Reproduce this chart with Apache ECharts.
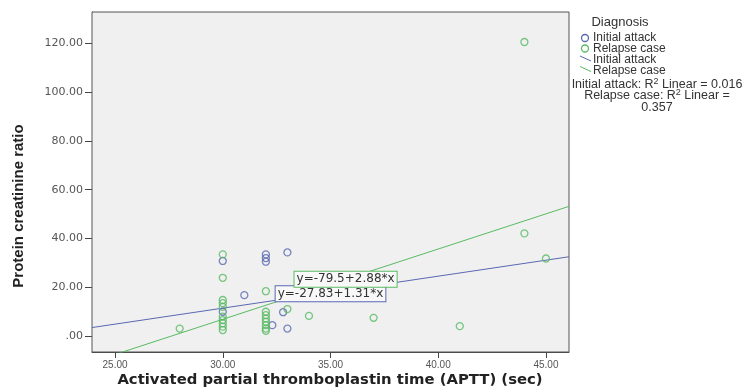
<!DOCTYPE html>
<html>
<head>
<meta charset="utf-8">
<script src="https://cdn.jsdelivr.net/npm/echarts@6/dist/echarts.min.js"></script>
<style>html,body{margin:0;padding:0;background:#fff;}#c{width:749px;height:392px;}</style>
</head>
<body>
<div id="c"></div>
<script>
// ---- data ----
const initialAttack = [
  [30, 30.8], [30, 10], [31, 16.8], [32, 33.5], [32, 32], [32, 30.5],
  [33, 34.3], [32.8, 9.8], [33, 3.1], [32.3, 4.5]
];
const relapseCase = [
  [28, 3.1],
  [30, 33.5], [30, 23.9], [30, 14.8], [30, 13.5], [30, 12], [30, 8], [30, 6.6], [30, 5.3], [30, 3.9], [30, 2.5],
  [32, 18.4], [32, 10], [32, 8.6], [32, 7.2], [32, 5.9], [32, 4.5], [32, 3.1], [32, 2.2],
  [33, 11.1], [34, 8.3], [37, 7.5], [41, 4.1], [44, 42.1], [44, 120.5], [45, 31.8]
];
const fitInitial = [-27.83, 1.31];   // intercept, slope
const fitRelapse = [-79.5, 2.88];
const xTicks = [25, 30, 35, 40, 45];
const yTicks = [0, 20, 40, 60, 80, 100, 120];
const xRange = [23.93, 46.07];
const yRange = [-6.5, 132.8];
const eqLabelX = [35.0, 35.7];  // initial, relapse
const r2Texts = ['Initial attack: R{sup|2} Linear = 0.016', 'Relapse case: R{sup|2} Linear =', '0.357'];

const BLUE = '#5a68b2';
const GREEN = '#58ba62';
const F = '"Liberation Sans", Arial, sans-serif';
const D = '"DejaVu Sans", Verdana, sans-serif';

function fitLine(c) { return [[xRange[0], c[0] + c[1] * xRange[0]], [xRange[1], c[0] + c[1] * xRange[1]]]; }
function eqText(c) { return 'y=' + c[0] + '+' + c[1] + '*x'; }
function fmt(v) { return v === 0 ? '.00' : v.toFixed(2); }

const chart = echarts.init(document.getElementById('c'), null, {renderer: 'canvas'});
const hollow = (col) => ({color: 'rgba(0,0,0,0)', borderColor: col, borderWidth: 1.3});
const eqMark = (c, xv, col, dy) => ({
  symbol: 'rect', symbolSize: 0, silent: true, z: 10,
  data: [{coord: [xv, c[0] + c[1] * xv]}],
  label: {
    show: true, position: 'inside', formatter: eqText(c), offset: [0, dy],
    color: '#333', fontFamily: D, fontSize: 12,
    backgroundColor: '#f8f8f8', borderColor: col, borderWidth: 1, padding: [2, 2, 1, 2]
  }
});
const supRich = {sup: {fontSize: 9, padding: [0, 0, 6, 0]}};

chart.setOption({
  animation: false,
  backgroundColor: '#fff',
  grid: {left: 92, right: 180, top: 12, bottom: 40, show: true, backgroundColor: '#f0f0f0', borderColor: '#555', borderWidth: 1, z: 2},
  xAxis: {
    type: 'value', min: xRange[0], max: xRange[1],
    axisLine: {onZero: false, lineStyle: {color: '#444', width: 1}},
    axisTick: {show: true, length: 6, customValues: xTicks, lineStyle: {color: '#444'}},
    axisLabel: {customValues: xTicks, formatter: fmt, color: '#555', fontFamily: F, fontSize: 10, margin: 8},
    splitLine: {show: false}
  },
  yAxis: {
    type: 'value', min: yRange[0], max: yRange[1],
    axisLine: {onZero: false, lineStyle: {color: '#444', width: 1}},
    axisTick: {show: true, length: 7, customValues: yTicks, lineStyle: {color: '#444'}},
    axisLabel: {customValues: yTicks, formatter: fmt, color: '#555', fontFamily: D, fontSize: 11, margin: 9},
    splitLine: {show: false}
  },
  series: [
    {name: 'Initial attack fit', type: 'line', data: fitLine(fitInitial), showSymbol: false, symbol: 'none', clip: true,
     lineStyle: {color: BLUE, width: 1}, z: 3, markPoint: eqMark(fitInitial, eqLabelX[0], BLUE, 1.5)},
    {name: 'Relapse case fit', type: 'line', data: fitLine(fitRelapse), showSymbol: false, symbol: 'none', clip: true,
     lineStyle: {color: GREEN, width: 1}, z: 3, markPoint: eqMark(fitRelapse, eqLabelX[1], GREEN, 0)},
    {name: 'Initial attack', type: 'scatter', data: initialAttack, symbol: 'circle', symbolSize: 7, itemStyle: hollow(BLUE), z: 4},
    {name: 'Relapse case', type: 'scatter', data: relapseCase, symbol: 'circle', symbolSize: 7, itemStyle: hollow(GREEN), z: 4}
  ],
  graphic: [
    {type: 'text', x: 330, y: 380, scaleX: 1.06, style: {text: 'Activated partial thromboplastin time (APTT) (sec)', font: 'bold 14px ' + D, fill: '#222', textAlign: 'center', textVerticalAlign: 'middle'}},
    {type: 'text', x: 19, y: 206, rotation: Math.PI / 2, style: {text: 'Protein creatinine ratio', font: 'bold 15px "Liberation Sans Narrow", "Arial Narrow", sans-serif', fill: '#222', textAlign: 'center', textVerticalAlign: 'middle'}},
    {type: 'text', x: 620, y: 22, style: {text: 'Diagnosis', font: '13px ' + F, fill: '#333', textAlign: 'center', textVerticalAlign: 'middle'}},
    {type: 'circle', shape: {cx: 585, cy: 38, r: 3.5}, style: {fill: 'none', stroke: BLUE, lineWidth: 1.3}},
    {type: 'text', x: 593, y: 38, style: {text: 'Initial attack', font: '12px ' + F, fill: '#333', textVerticalAlign: 'middle'}},
    {type: 'circle', shape: {cx: 585, cy: 48.5, r: 3.5}, style: {fill: 'none', stroke: GREEN, lineWidth: 1.3}},
    {type: 'text', x: 593, y: 48.5, style: {text: 'Relapse case', font: '12px ' + F, fill: '#333', textVerticalAlign: 'middle'}},
    {type: 'line', shape: {x1: 580, y1: 56, x2: 591, y2: 61}, style: {stroke: BLUE, lineWidth: 1}},
    {type: 'text', x: 593, y: 59.5, style: {text: 'Initial attack', font: '12px ' + F, fill: '#333', textVerticalAlign: 'middle'}},
    {type: 'line', shape: {x1: 580, y1: 66.5, x2: 591, y2: 71.5}, style: {stroke: GREEN, lineWidth: 1}},
    {type: 'text', x: 593, y: 70.5, style: {text: 'Relapse case', font: '12px ' + F, fill: '#333', textVerticalAlign: 'middle'}},
    {type: 'text', x: 657, y: 85, z: -5, style: {text: r2Texts[0], font: '12.5px ' + F, fill: '#333', textAlign: 'center', textVerticalAlign: 'middle', rich: supRich}},
    {type: 'text', x: 657, y: 96, z: -5, style: {text: r2Texts[1], font: '12.5px ' + F, fill: '#333', textAlign: 'center', textVerticalAlign: 'middle', rich: supRich}},
    {type: 'text', x: 657, y: 107.5, style: {text: r2Texts[2], font: '12.5px ' + F, fill: '#333', textAlign: 'center', textVerticalAlign: 'middle'}}
  ]
});
</script>
</body>
</html>
